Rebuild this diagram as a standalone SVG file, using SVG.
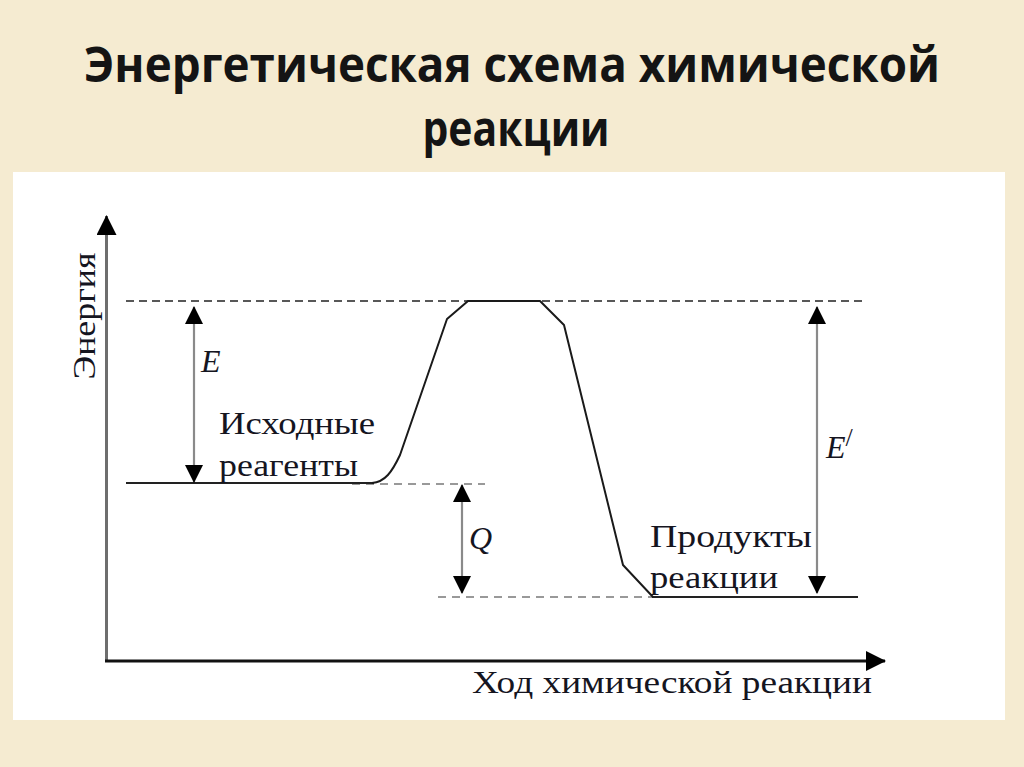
<svg xmlns="http://www.w3.org/2000/svg" width="1024" height="767" viewBox="0 0 1024 767">
  <style>
    .title { font-family: "Open Sans", "Noto Sans", "DejaVu Sans", sans-serif; font-weight: bold; font-size: 48px; fill: #141414; text-anchor: middle; }
    .lbl { font-family: "Liberation Serif", "Times New Roman", serif; font-size: 32px; fill: #15151f; }
    .math { font-family: "Liberation Serif", "Times New Roman", serif; font-style: italic; font-size: 32px; fill: #15151f; }
    .dim { stroke: #8a8a8a; stroke-width: 2.2; fill: none; }
    .dashTop { stroke: #222; stroke-width: 1.6; stroke-dasharray: 8 5; fill: none; }
    .dashLow { stroke: #999; stroke-width: 2; stroke-dasharray: 8 6; fill: none; }
    .level { stroke: #222; stroke-width: 2; fill: none; }
    .curve { stroke: #1a1a1a; stroke-width: 2; fill: none; stroke-linejoin: round; }
  </style>
  <defs>
    <marker id="ah" markerUnits="userSpaceOnUse" markerWidth="18" markerHeight="18" refX="17" refY="9" orient="auto-start-reverse" viewBox="0 0 18 18">
      <path d="M0,0 L18,9 L0,18 z" fill="#000"/>
    </marker>
    <marker id="axh" markerUnits="userSpaceOnUse" markerWidth="20" markerHeight="20" refX="19" refY="10" orient="auto" viewBox="0 0 20 20">
      <path d="M0,0 L20,10 L0,20 z" fill="#000"/>
    </marker>
  </defs>

  <rect x="0" y="0" width="1024" height="767" fill="#f5ebd1"/>
  <rect x="13" y="172" width="992" height="548" fill="#ffffff"/>

  <g id="title">
    <text class="title" x="512" y="82" textLength="856" lengthAdjust="spacingAndGlyphs">Энергетическая схема химической</text>
    <text class="title" x="516" y="146" textLength="187" lengthAdjust="spacingAndGlyphs">реакции</text>
  </g>

  <g id="connectors">
    <!-- axes -->
    <line x1="106.5" y1="661" x2="106.5" y2="216" stroke="#6e6e6e" stroke-width="3" marker-end="url(#axh)"/>
    <line x1="105" y1="661" x2="885" y2="661" stroke="#111" stroke-width="3" marker-end="url(#axh)"/>
    <!-- dashed reference lines -->
    <line class="dashTop" x1="126" y1="301" x2="862" y2="301"/>
    <line class="dashLow" x1="352" y1="484" x2="485" y2="484"/>
    <line class="dashLow" x1="438" y1="597" x2="722" y2="597"/>
    <!-- energy levels -->
    <line class="level" x1="126" y1="483" x2="374" y2="483"/>
    <line class="level" x1="652" y1="597" x2="858" y2="597"/>
    <!-- reaction profile -->
    <path class="curve" d="M372,483 C385,482 392,472 400,455 L447,319 L468,301 L540,301 L564,325 L623,565 L653,597"/>
    <!-- dimension arrows -->
    <line class="dim" x1="194" y1="307" x2="194" y2="482" marker-start="url(#ah)" marker-end="url(#ah)"/>
    <line class="dim" x1="462" y1="485" x2="462" y2="593" marker-start="url(#ah)" marker-end="url(#ah)"/>
    <line class="dim" x1="817" y1="307" x2="817" y2="593" marker-start="url(#ah)" marker-end="url(#ah)"/>
  </g>

  <g id="axis-y-label">
    <text class="lbl" transform="translate(95,316) rotate(-90)" text-anchor="middle" textLength="127" lengthAdjust="spacingAndGlyphs">Энергия</text>
  </g>
  <g id="axis-x-label">
    <text class="lbl" x="472" y="693" textLength="400" lengthAdjust="spacingAndGlyphs">Ход химической реакции</text>
  </g>
  <g id="label-E">
    <text class="math" x="201" y="372">E</text>
  </g>
  <g id="label-reactants">
    <text class="lbl" x="219" y="434" textLength="156" lengthAdjust="spacingAndGlyphs">Исходные</text>
    <text class="lbl" x="219" y="476" textLength="139" lengthAdjust="spacingAndGlyphs">реагенты</text>
  </g>
  <g id="label-Q">
    <text class="math" x="469" y="549">Q</text>
  </g>
  <g id="label-E-prime">
    <text class="math" x="826" y="458">E<tspan font-style="normal" font-size="26" dx="0" dy="-12">/</tspan></text>
  </g>
  <g id="label-products">
    <text class="lbl" x="650" y="547" textLength="162" lengthAdjust="spacingAndGlyphs">Продукты</text>
    <text class="lbl" x="650" y="588" textLength="128" lengthAdjust="spacingAndGlyphs">реакции</text>
  </g>
</svg>
